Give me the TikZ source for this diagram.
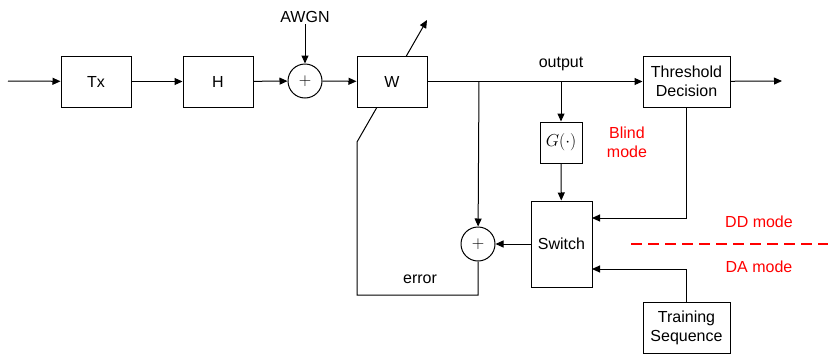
\documentclass[tikz,border=0pt]{standalone}
\usepackage{fontspec}
\setmainfont{Liberation Sans}
\usetikzlibrary{arrows.meta}
\begin{document}
\begin{tikzpicture}[x=1pt,y=-1pt,line width=1pt,>={Triangle[length=8pt,width=7pt]},
  every node/.style={font=\fontsize{16}{19}\selectfont},
  blk/.style={draw,fill=white,minimum width=70pt,minimum height=51pt,inner sep=0pt,align=center},
  sum/.style={draw,fill=white,circle,minimum size=34pt,inner sep=0pt},
  redlbl/.style={text=red,align=center}]
\useasboundingbox (0,0) rectangle (828,354);
\coordinate (in) at (8,81);
\coordinate (out) at (782,81);
\coordinate (b1) at (479,81);
\coordinate (b2) at (561,81);
\coordinate (fb) at (357,295);
\coordinate (wlo) at (357,142);
\coordinate (whi) at (427,20);
\coordinate (ddin) at (592,218);
\coordinate (dain) at (592,269);
\coordinate (dash1) at (631,244);
\coordinate (dash2) at (828,244);

\node[blk] (tx) at (96,81.5) {Tx};
\node[blk] (h) at (218,81.5) {H};
\node[sum] (add1) at (305,81) {$+$};
\node[inner sep=1pt] (awgn) at (305,17) {AWGN};
\node[blk,minimum width=87pt] (th) at (686.5,81.5) {Threshold\\Decision};
\node[blk,minimum width=42pt,minimum height=41pt] (g) at (561,142.5) {$G(\cdot)$};
\node[blk,minimum width=61pt,minimum height=86pt] (sw) at (561.5,244) {Switch};
\node[sum] (add2) at (478,244) {$+$};
\node[blk,minimum width=87pt] (ts) at (686.5,327.5) {Training\\Sequence};

\draw[->] (add2) |- (fb) -- (wlo) -- (whi);
\node[blk] (w) at (392,81.5) {W};

\draw[->] (in) -- (tx);
\draw[->] (tx) -- (h);
\draw[->] (h) -- (add1);
\draw[->] (awgn) -- (add1);
\draw[->] (add1) -- (w);
\draw[->] (w) -- (th);
\draw[->] (th) -- (out);
\draw[->] (b1) -- (add2);
\draw[->] (b2) -- (g);
\draw[->] (g) -- (sw);
\draw[->] (sw) -- (add2);
\draw[->] (th) |- (ddin);
\draw[->] (ts) |- (dain);
\draw[red,line width=2pt,dash pattern=on 11pt off 6pt] (dash1) -- (dash2);

\node (outlbl) at (561,64) {output};
\node (errlbl) at (420,279) {error};
\node[redlbl] (blind) at (627,142) {Blind\\mode};
\node[redlbl] (dd) at (759,222) {DD mode};
\node[redlbl] (da) at (759,267) {DA mode};
\end{tikzpicture}
\end{document}
